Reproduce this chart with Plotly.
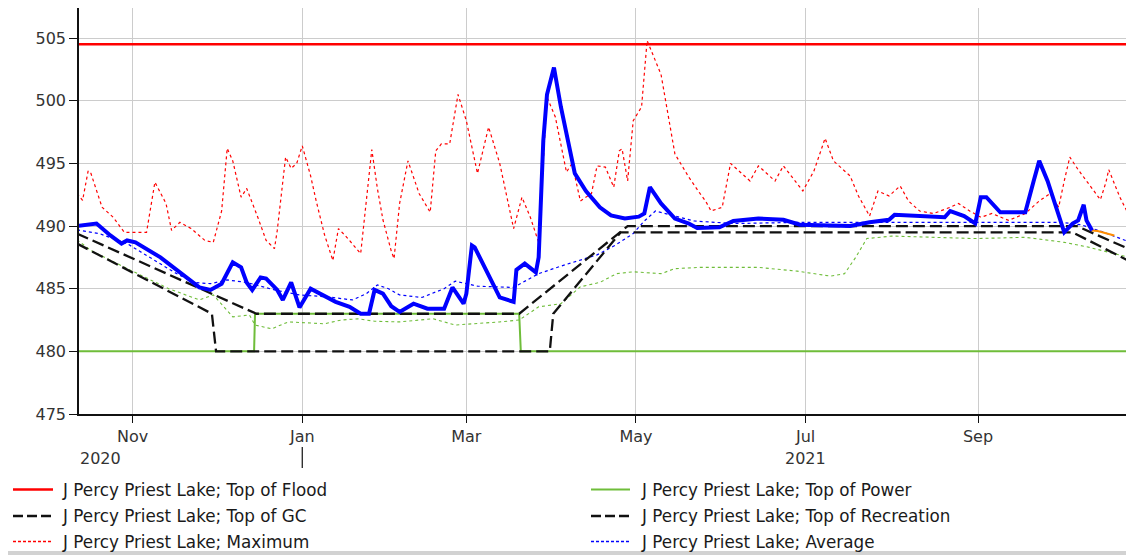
import plotly.graph_objects as go

# ---------------- data ----------------
flood_dates = ["2020-10-12", "2021-10-28"]
flood_vals = [504.5, 504.5]

power_dates = ["2020-10-12", "2020-12-14 16:00", "2020-12-15", "2021-03-20", "2021-03-20 14:00", "2021-10-28"]
power_vals = [480.0, 480.0, 483.0, 483.0, 480.0, 480.0]

gc_dates = ["2020-10-12", "2020-12-15 12:00", "2021-03-20", "2021-04-28", "2021-10-06 12:00", "2021-10-28"]
gc_vals = [489.4, 483.0, 483.0, 490.0, 490.0, 487.9]

rec_dates = ["2020-10-12", "2020-11-29 12:00", "2020-12-01", "2021-03-31", "2021-04-01 06:00", "2021-04-25 12:00",
             "2021-10-05", "2021-10-28"]
rec_vals = [488.6, 483.0, 480.0, 480.0, 483.0, 489.5, 489.5, 486.9]

max_dates = ["2020-10-12", "2020-10-14", "2020-10-16", "2020-10-17", "2020-10-21", "2020-10-25", "2020-10-29",
             "2020-11-06", "2020-11-09", "2020-11-13", "2020-11-15", "2020-11-18", "2020-11-22", "2020-11-27",
             "2020-11-30", "2020-12-03", "2020-12-05", "2020-12-07", "2020-12-10", "2020-12-12", "2020-12-16",
             "2020-12-19", "2020-12-22", "2020-12-23", "2020-12-26", "2020-12-28", "2020-12-30", "2021-01-01",
             "2021-01-04", "2021-01-06", "2021-01-09", "2021-01-12", "2021-01-14", "2021-01-17", "2021-01-22",
             "2021-01-24", "2021-01-26", "2021-01-28", "2021-01-30", "2021-02-02", "2021-02-03", "2021-02-05",
             "2021-02-08", "2021-02-12", "2021-02-16", "2021-02-18", "2021-02-20", "2021-02-23", "2021-02-26",
             "2021-03-01", "2021-03-05", "2021-03-09", "2021-03-13", "2021-03-18", "2021-03-21", "2021-03-24",
             "2021-03-27", "2021-03-30", "2021-04-02", "2021-04-06", "2021-04-08", "2021-04-11", "2021-04-15",
             "2021-04-17", "2021-04-20", "2021-04-23", "2021-04-25", "2021-04-26", "2021-04-28", "2021-04-30",
             "2021-05-03", "2021-05-05", "2021-05-10", "2021-05-15", "2021-05-20", "2021-05-24", "2021-05-26",
             "2021-05-28", "2021-06-01", "2021-06-04", "2021-06-07", "2021-06-11", "2021-06-14", "2021-06-20",
             "2021-06-23", "2021-06-27", "2021-06-30", "2021-07-04", "2021-07-08", "2021-07-11", "2021-07-17",
             "2021-07-20", "2021-07-24", "2021-07-27", "2021-07-31", "2021-08-04", "2021-08-07", "2021-08-11",
             "2021-08-16", "2021-08-22", "2021-08-25", "2021-08-29", "2021-09-02", "2021-09-06", "2021-09-12",
             "2021-09-18", "2021-09-23", "2021-09-27", "2021-09-30", "2021-10-02", "2021-10-04", "2021-10-07",
             "2021-10-11", "2021-10-15", "2021-10-17", "2021-10-18", "2021-10-22", "2021-10-27"]
max_vals = [492.6, 492.05, 494.4, 494.2, 491.5, 490.7, 489.5,
            489.5, 493.5, 491.8, 489.65, 490.3, 489.8, 488.85,
            488.7, 491.2, 496.2, 495.2, 492.3, 493.0, 490.7,
            488.85, 488.2, 489.65, 495.5, 494.6, 495.0, 496.4,
            494.0, 492.0, 489.3, 487.25, 489.8, 489.1, 487.8,
            492.0, 496.1, 493.0, 490.5, 488.0, 487.4, 491.8,
            495.2, 492.6, 491.1, 496.0, 496.55, 496.55, 500.5,
            498.4, 494.2, 497.9, 495.0, 489.8, 492.3, 490.7,
            488.7, 500.3, 498.7, 494.3, 495.0, 492.0, 492.6,
            494.8, 494.7, 493.1, 496.0, 496.15, 493.6, 498.4,
            499.5, 504.8, 502.1, 495.75, 493.9, 492.6, 492.0,
            491.2, 491.5, 495.0, 494.4, 493.6, 494.8, 493.6,
            494.8, 493.6, 492.8, 494.4, 497.0, 495.2, 494.0,
            492.4, 490.8, 492.8, 492.4, 493.2, 492.0, 491.2,
            491.0, 491.5, 491.8, 491.2, 490.7, 491.0, 490.45,
            491.0, 492.0, 492.6, 491.5, 493.6, 495.5, 494.5,
            493.3, 492.1, 493.5, 494.5, 492.3, 490.1]

avg_dates = ["2020-10-12", "2020-10-20", "2020-10-30", "2020-11-06", "2020-11-16", "2020-11-23", "2020-11-29",
             "2020-12-05", "2020-12-12", "2020-12-22", "2020-12-31", "2021-01-10", "2021-01-19", "2021-01-24",
             "2021-01-28", "2021-02-01", "2021-02-05", "2021-02-13", "2021-02-21", "2021-02-25", "2021-03-05",
             "2021-03-18", "2021-03-27", "2021-04-04", "2021-04-11", "2021-04-17", "2021-04-23", "2021-04-30",
             "2021-05-04", "2021-05-08", "2021-05-15", "2021-05-22", "2021-06-05", "2021-07-01", "2021-08-01",
             "2021-09-01", "2021-10-01", "2021-10-08", "2021-10-15", "2021-10-27"]
avg_vals = [489.7, 489.4, 488.6, 487.65, 486.3, 485.5, 485.4,
            485.7, 485.5, 484.9, 484.5, 484.35, 484.1, 484.6,
            485.3, 485.0, 484.5, 484.3, 485.0, 485.6, 485.2,
            485.1, 486.2, 486.8, 487.3, 487.7, 488.4, 489.4,
            490.4, 491.2, 490.8, 490.4, 490.2, 490.3, 490.3,
            490.3, 490.3, 490.1, 489.6, 488.6]

min_dates = ["2020-10-12", "2020-10-17", "2020-10-31", "2020-11-14", "2020-11-25", "2020-11-30", "2020-12-07",
             "2020-12-13", "2020-12-15", "2020-12-21", "2020-12-27", "2021-01-09", "2021-01-15", "2021-01-21",
             "2021-01-27", "2021-02-05", "2021-02-17", "2021-02-25", "2021-03-13", "2021-03-20", "2021-03-27",
             "2021-04-04", "2021-04-11", "2021-04-18", "2021-04-24", "2021-04-30", "2021-05-10", "2021-05-15",
             "2021-05-24", "2021-06-14", "2021-06-28", "2021-07-10", "2021-07-15", "2021-07-19", "2021-07-23",
             "2021-08-01", "2021-08-31", "2021-09-18", "2021-10-02", "2021-10-11", "2021-10-27"]
min_vals = [488.9, 488.05, 486.5, 485.0, 484.1, 484.5, 482.75,
            482.9, 482.1, 481.8, 482.35, 482.2, 482.5, 482.6,
            482.4, 482.35, 482.6, 482.1, 482.35, 482.5, 483.55,
            483.8, 485.15, 485.5, 486.2, 486.35, 486.2, 486.6,
            486.7, 486.7, 486.4, 486.0, 486.2, 487.5, 489.0,
            489.2, 489.0, 489.1, 488.7, 488.3, 487.4]

elev_dates = ["2020-10-12", "2020-10-16", "2020-10-19", "2020-10-24", "2020-10-28", "2020-10-30", "2020-11-02",
              "2020-11-11", "2020-11-17", "2020-11-25", "2020-11-29", "2020-12-03", "2020-12-07", "2020-12-10",
              "2020-12-12", "2020-12-14", "2020-12-17", "2020-12-19", "2020-12-23", "2020-12-25", "2020-12-28",
              "2020-12-31", "2021-01-04", "2021-01-08", "2021-01-13", "2021-01-18", "2021-01-22", "2021-01-25",
              "2021-01-27", "2021-01-30", "2021-02-02", "2021-02-05", "2021-02-10", "2021-02-15", "2021-02-21",
              "2021-02-24", "2021-02-28", "2021-03-01", "2021-03-03", "2021-03-04", "2021-03-13", "2021-03-18",
              "2021-03-19", "2021-03-22", "2021-03-26", "2021-03-27", "2021-03-28 16:00", "2021-03-30",
              "2021-04-01 12:00", "2021-04-04", "2021-04-09", "2021-04-13", "2021-04-18", "2021-04-22",
              "2021-04-27", "2021-05-02", "2021-05-04", "2021-05-06", "2021-05-10", "2021-05-15", "2021-05-20",
              "2021-05-23", "2021-05-31", "2021-06-05", "2021-06-14", "2021-06-23", "2021-06-29", "2021-07-17",
              "2021-07-24", "2021-07-31", "2021-08-02", "2021-08-20", "2021-08-22", "2021-08-27", "2021-08-31",
              "2021-09-02", "2021-09-04", "2021-09-09", "2021-09-18", "2021-09-21", "2021-09-23", "2021-09-26",
              "2021-10-02", "2021-10-05", "2021-10-07", "2021-10-09", "2021-10-10", "2021-10-12"]
elev_vals = [490.0, 490.15, 490.2, 489.25, 488.6, 488.85, 488.7,
             487.5, 486.5, 485.1, 484.9, 485.4, 487.1, 486.7,
             485.5, 484.9, 485.9, 485.8, 484.9, 484.1, 485.5,
             483.5, 485.0, 484.5, 483.95, 483.55, 483.0, 483.0,
             484.9, 484.6, 483.6, 483.15, 483.8, 483.4, 483.4,
             485.1, 483.8, 484.6, 488.45, 488.3, 484.3, 483.95,
             486.5, 487.0, 486.3, 487.5, 496.8, 500.5,
             502.65, 499.5, 494.2, 492.8, 491.5, 490.85,
             490.6, 490.75, 491.0, 493.1, 491.8, 490.6, 490.2,
             489.85, 489.9, 490.4, 490.6, 490.5, 490.1, 490.0,
             490.3, 490.5, 490.9, 490.7, 491.2, 490.8, 490.2,
             492.3, 492.3, 491.1, 491.1, 493.6, 495.2, 493.6,
             489.5, 490.2, 490.45, 491.7, 490.45, 489.65]

fcst_dates = ["2021-10-12", "2021-10-14", "2021-10-20"]
fcst_vals = [489.65, 489.6, 489.25]

month_ticks = ["2020-11-01", "2021-01-01", "2021-03-01", "2021-05-01", "2021-07-01", "2021-09-01"]
month_labels = ["Nov", "Jan", "Mar", "May", "Jul", "Sep"]
y_ticks = [475, 480, 485, 490, 495, 500, 505]
year_labels = ["2020", "2021"]

legend_names = ["J Percy Priest Lake; Top of Flood", "J Percy Priest Lake; Top of Power",
                "J Percy Priest Lake; Top of GC", "J Percy Priest Lake; Top of Recreation",
                "J Percy Priest Lake; Maximum", "J Percy Priest Lake; Average"]

# ---------------- styles ----------------
RED = "#ff0000"
GREEN = "#6fbd3a"
BLACK = "#111111"
BLUE = "#0000ff"
FONT = "DejaVu Sans"

fig = go.Figure()
fig.add_trace(go.Scatter(x=power_dates, y=power_vals, mode="lines", name=legend_names[1],
                         line=dict(color=GREEN, width=2)))
fig.add_trace(go.Scatter(x=min_dates, y=min_vals, mode="lines", name="J Percy Priest Lake; Minimum",
                         line=dict(color=GREEN, width=1.1, dash="3px,3px")))
fig.add_trace(go.Scatter(x=max_dates, y=max_vals, mode="lines", name=legend_names[4],
                         line=dict(color=RED, width=1.2, dash="3px,3px")))
fig.add_trace(go.Scatter(x=avg_dates, y=avg_vals, mode="lines", name=legend_names[5],
                         line=dict(color=BLUE, width=1.2, dash="3px,3px")))
fig.add_trace(go.Scatter(x=rec_dates, y=rec_vals, mode="lines", name=legend_names[3],
                         line=dict(color=BLACK, width=2.3, dash="12px,5px")))
fig.add_trace(go.Scatter(x=gc_dates, y=gc_vals, mode="lines", name=legend_names[2],
                         line=dict(color=BLACK, width=2.3, dash="12px,5px")))
fig.add_trace(go.Scatter(x=flood_dates, y=flood_vals, mode="lines", name=legend_names[0],
                         line=dict(color=RED, width=2.5)))
fig.add_trace(go.Scatter(x=fcst_dates, y=fcst_vals, mode="lines", name="J Percy Priest Lake; Forecast",
                         line=dict(color="#ff8c00", width=2)))
fig.add_trace(go.Scatter(x=elev_dates, y=elev_vals, mode="lines", name="J Percy Priest Lake; Elevation",
                         line=dict(color=BLUE, width=4)))

# ---------------- layout ----------------
OFF = 8  # page margin around the figure in the browser
W, H = 1134 - OFF, 555 - OFF
ML, MR, MT, MB = 79 - OFF, 0, 0, 555 - 414
PW, PH = W - ML - MR, H - MT - MB


def xp(px):  # screen x pixel -> paper
    return (px - OFF - ML) / PW


def yp(py):  # screen y pixel -> paper
    return (H - MB - (py - OFF)) / PH


shapes = []
annotations = []

# manual legend (two columns, three rows)
leg_styles = [
    dict(color=RED, width=2.5),
    dict(color=GREEN, width=2),
    dict(color=BLACK, width=2.3, dash="10px,4px"),
    dict(color=BLACK, width=2.3, dash="10px,4px"),
    dict(color=RED, width=1.6, dash="3px,2px"),
    dict(color=BLUE, width=1.6, dash="3px,2px"),
]
row_y = [489.5, 516, 541.5]
col_x = [(13, 53, 60), (591, 630, 639)]
for i, name in enumerate(legend_names):
    r, c = divmod(i, 2)
    x0, x1, tx = col_x[c]
    shapes.append(dict(type="line", xref="paper", yref="paper", x0=xp(x0), x1=xp(x1),
                       y0=yp(row_y[r]), y1=yp(row_y[r]), line=leg_styles[i]))
    annotations.append(dict(text=name, xref="paper", yref="paper", x=xp(tx), y=yp(row_y[r]),
                            xanchor="left", yanchor="middle", showarrow=False,
                            font=dict(family=FONT, size=16.8, color="#1a1a1a")))

# year labels and year separator
annotations.append(dict(text=year_labels[0], xref="paper", yref="paper", x=xp(100), y=yp(458),
                        xanchor="center", yanchor="middle", showarrow=False,
                        font=dict(family=FONT, size=16, color="#333333")))
annotations.append(dict(text=year_labels[1], xref="x", yref="paper", x=month_ticks[4], y=yp(458),
                        xanchor="center", yanchor="middle", showarrow=False,
                        font=dict(family=FONT, size=16, color="#333333")))
shapes.append(dict(type="line", xref="x", yref="paper", x0=month_ticks[1], x1=month_ticks[1],
                   y0=yp(447), y1=yp(468), line=dict(color="#222222", width=1.3)))

# grey strip at the very bottom
shapes.append(dict(type="rect", xref="paper", yref="paper", x0=xp(0), x1=xp(1134), y0=yp(560), y1=yp(551),
                   line=dict(width=0), fillcolor="#d2d2d2", layer="above"))

fig.update_layout(
    width=W, height=H,
    margin=dict(l=ML, r=MR, t=MT, b=MB, pad=0),
    paper_bgcolor="white", plot_bgcolor="white",
    showlegend=False,
    font=dict(family=FONT, size=16, color="#333333"),
    shapes=shapes, annotations=annotations,
    xaxis=dict(range=["2020-10-12 17:00", "2021-10-27 02:00"], tickvals=month_ticks, ticktext=month_labels,
               showgrid=True, gridcolor="#cccccc", gridwidth=1, showline=True, linecolor="#111111",
               linewidth=1.5, ticks="outside", ticklen=7, tickcolor="#111111", zeroline=False,
               tickfont=dict(family=FONT, size=16, color="#333333")),
    yaxis=dict(range=[475, 507.4], tickvals=y_ticks, showgrid=True, gridcolor="#cccccc", gridwidth=1,
               showline=True, linecolor="#111111", linewidth=1.5, ticks="outside", ticklen=8,
               tickcolor="#111111", zeroline=False, ticklabelstandoff=0,
               tickfont=dict(family=FONT, size=16, color="#333333")),
)

fig.write_html("out.html")
